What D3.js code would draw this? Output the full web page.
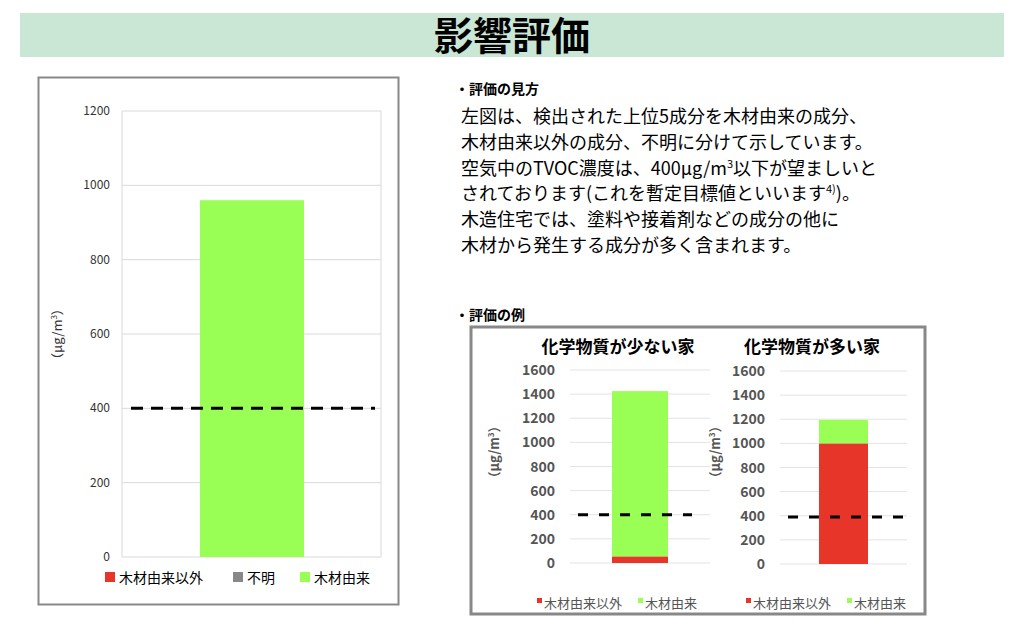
<!DOCTYPE html>
<html><head><meta charset="utf-8">
<script src="https://cdn.jsdelivr.net/npm/d3@7"></script>
<style>body{margin:0;background:#fff}svg{font-family:"Noto Sans CJK JP","Noto Sans",sans-serif}</style>
</head><body><svg id="c" width="1024" height="635"></svg>
<script>
const mainCats=["木材由来以外","不明","木材由来"];
const mainVals=[0,0,960];
const mainTicks=[0,200,400,600,800,1000,1200];
const guideline=400;
const exTitles=["化学物質が少ない家","化学物質が多い家"];
const exNonWood=[55,1000];
const exWood=[1370,195];
const exGuide=[400,390];
const exTicks=[0,200,400,600,800,1000,1200,1400,1600];
const colors={"木材由来以外":"#e8352a","不明":"#888888","木材由来":"#99ff55"};
const paraLines=["左図は、検出された上位5成分を木材由来の成分、","木材由来以外の成分、不明に分けて示しています。","空気中のTVOC濃度は、400μg/m3以下が望ましいと","されております(これを暫定目標値といいます4))。","木造住宅では、塗料や接着剤などの成分の他に","木材から発生する成分が多く含まれます。"];

const svg=d3.select("#c");
svg.append("rect").attr("x",20).attr("y",13).attr("width",984).attr("height",44).attr("fill","#c9e7d4");
svg.append("text").attr("x",512).attr("y",50).attr("text-anchor","middle").attr("font-size",39).attr("font-weight","bold").text("影響評価");

svg.append("rect").attr("x",38.5).attr("y",77.5).attr("width",360).attr("height",527).attr("fill","none").attr("stroke","#888").attr("stroke-width",2);
const y=d3.scaleLinear().domain([0,1200]).range([557,111]);
const x0=122,x1=381;
const g=svg.append("g");
mainTicks.forEach(t=>{
  g.append("line").attr("x1",x0).attr("x2",x1).attr("y1",y(t)).attr("y2",y(t)).attr("stroke","#d9d9d9");
  g.append("text").attr("x",110).attr("y",y(t)+4).attr("text-anchor","end").attr("font-size",12).attr("fill","#333").text(t);
});
[x0,x1].forEach(xx=>g.append("line").attr("x1",xx).attr("x2",xx).attr("y1",y(0)).attr("y2",y(1200)).attr("stroke","#d9d9d9"));
let acc=0;
mainCats.forEach((c,i)=>{const v=mainVals[i]; if(v>0){g.append("rect").attr("x",200).attr("width",104).attr("y",y(acc+v)).attr("height",y(acc)-y(acc+v)).attr("fill",colors[c]);} acc+=v;});
g.append("line").attr("x1",131).attr("x2",375).attr("y1",y(guideline)).attr("y2",y(guideline)).attr("stroke","#000").attr("stroke-width",3).attr("stroke-dasharray","12,8");
g.append("text").attr("transform","translate(62,334) rotate(-90)").attr("text-anchor","middle").attr("font-size",13).attr("fill","#333").html("（μg/m<tspan font-size='8' dy='-5'>3</tspan><tspan dy='5'>）</tspan>");
const lx=[105,233,300];
mainCats.forEach((c,i)=>{
  g.append("rect").attr("x",lx[i]).attr("y",572).attr("width",10).attr("height",10).attr("fill",colors[c]);
  g.append("text").attr("x",lx[i]+14).attr("y",583).attr("font-size",14).text(c);
});

svg.append("text").attr("x",455).attr("y",94).attr("font-size",14).attr("font-weight","bold").text("・評価の見方");
paraLines.forEach((l,i)=>{
  const t=svg.append("text").attr("x",461).attr("y",123+i*25.8).attr("font-size",18);
  if(i===2){t.html("空気中のTVOC濃度は、400μg/m<tspan font-size='11' dy='-7'>3</tspan><tspan dy='7'>以下が望ましいと</tspan>");}
  else if(i===3){t.html("されております(これを暫定目標値といいます<tspan font-size='11' dy='-7'>4)</tspan><tspan dy='7'>)。</tspan>");}
  else t.text(l);
});
svg.append("text").attr("x",455).attr("y",320).attr("font-size",14).attr("font-weight","bold").text("・評価の例");

svg.append("rect").attr("x",471).attr("y",327).attr("width",454).attr("height",287).attr("fill","none").attr("stroke","#888").attr("stroke-width",3);
const ex=[{px0:570,px1:710,bx:612,bw:56,yt:370,yb:563,dx0:578,dx1:692,tx:555,ax:499,ttx:618},
          {px0:780,px1:907,bx:819,bw:49,yt:371,yb:564,dx0:788,dx1:903,tx:765,ax:720,ttx:812}];
ex.forEach((e,i)=>{
  const ys=d3.scaleLinear().domain([0,1600]).range([e.yb,e.yt]);
  const eg=svg.append("g");
  exTicks.forEach(t=>{
    eg.append("line").attr("x1",e.px0).attr("x2",e.px1).attr("y1",ys(t)).attr("y2",ys(t)).attr("stroke","#e3e3e3");
    eg.append("text").attr("x",e.tx).attr("y",ys(t)+5).attr("text-anchor","end").attr("font-size",14).attr("font-weight","bold").attr("fill","#555").text(t);
  });
  eg.append("rect").attr("x",e.bx).attr("width",e.bw).attr("y",ys(exNonWood[i])).attr("height",ys(0)-ys(exNonWood[i])).attr("fill",colors["木材由来以外"]);
  eg.append("rect").attr("x",e.bx).attr("width",e.bw).attr("y",ys(exNonWood[i]+exWood[i])).attr("height",ys(exNonWood[i])-ys(exNonWood[i]+exWood[i])).attr("fill",colors["木材由来"]);
  eg.append("line").attr("x1",e.dx0).attr("x2",e.dx1).attr("y1",ys(exGuide[i])).attr("y2",ys(exGuide[i])).attr("stroke","#000").attr("stroke-width",3).attr("stroke-dasharray","10,11");
  eg.append("text").attr("x",e.ttx).attr("y",353).attr("text-anchor","middle").attr("font-size",17).attr("font-weight","bold").text(exTitles[i]);
  eg.append("text").attr("transform",`translate(${e.ax},452) rotate(-90)`).attr("text-anchor","middle").attr("font-size",13).attr("font-weight","bold").attr("fill","#555").html("（μg/m<tspan font-size='8' dy='-5'>3</tspan><tspan dy='5'>）</tspan>");
  const lx0=i===0?537:746;
  eg.append("rect").attr("x",lx0).attr("y",598).attr("width",5).attr("height",5).attr("fill",colors["木材由来以外"]);
  eg.append("text").attr("x",lx0+7).attr("y",608).attr("font-size",13).attr("fill","#555").text("木材由来以外");
  eg.append("rect").attr("x",lx0+101).attr("y",598).attr("width",5).attr("height",5).attr("fill",colors["木材由来"]);
  eg.append("text").attr("x",lx0+108).attr("y",608).attr("font-size",13).attr("fill","#555").text("木材由来");
});
</script></body></html>
